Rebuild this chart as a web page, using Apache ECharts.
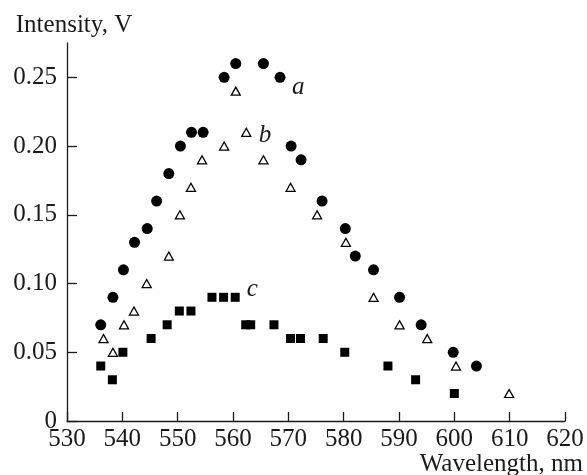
<!DOCTYPE html>
<html>
<head>
<meta charset="utf-8">
<script src="https://cdn.jsdelivr.net/npm/echarts@6/dist/echarts.min.js"></script>
<style>
  html, body { margin: 0; padding: 0; background: #fff; }
  #chart { width: 587px; height: 475px; }
</style>
</head>
<body>
<div id="chart"></div>
<script>
// curve a - filled circles
var aX = [536.1, 538.3, 540.2, 542.2, 544.5, 546.2, 548.4, 550.5, 552.5, 554.6, 558.4, 560.5, 565.5, 568.5, 570.5, 572.3, 576.1, 580.3, 582.1, 585.4, 590.1, 594.0, 599.8, 604.0];
var aY = [0.07, 0.09, 0.11, 0.13, 0.14, 0.16, 0.18, 0.20, 0.21, 0.21, 0.25, 0.26, 0.26, 0.25, 0.20, 0.19, 0.16, 0.14, 0.12, 0.11, 0.09, 0.07, 0.05, 0.04];
// curve b - open triangles
var bX = [536.6, 538.3, 540.3, 542.1, 544.4, 548.4, 550.4, 552.4, 554.4, 558.4, 560.5, 562.4, 565.5, 570.4, 575.2, 580.4, 585.4, 590.1, 595.1, 600.3, 609.9];
var bY = [0.06, 0.05, 0.07, 0.08, 0.10, 0.12, 0.15, 0.17, 0.19, 0.20, 0.24, 0.21, 0.19, 0.17, 0.15, 0.13, 0.09, 0.07, 0.06, 0.04, 0.02];
// curve c - filled squares
var cX = [536.1, 538.2, 540.1, 545.2, 548.1, 550.3, 552.4, 556.2, 558.3, 560.4, 562.3, 563.2, 567.4, 570.4, 572.2, 576.3, 580.2, 588.0, 593.0, 600.0];
var cY = [0.04, 0.03, 0.05, 0.06, 0.07, 0.08, 0.08, 0.09, 0.09, 0.09, 0.07, 0.07, 0.07, 0.06, 0.06, 0.06, 0.05, 0.04, 0.03, 0.02];

var curveNames = ['a', 'b', 'c'];
var curveLabelAt = [[571.8, 0.243], [565.8, 0.208], [563.5, 0.096]];
var yTicks = [0, 0.05, 0.10, 0.15, 0.20, 0.25];

function pairs(xs, ys) {
  return xs.map(function (x, i) { return [x, ys[i]]; });
}

var font = '"Liberation Serif", "Times New Roman", serif';
var ink = '#1a1a1a';
var fs = 25;

function tag(i) {
  return {
    symbol: 'circle',
    symbolSize: 0,
    silent: true,
    label: {
      show: true, position: 'inside', formatter: curveNames[i],
      fontFamily: font, fontStyle: 'italic', fontSize: fs, color: ink
    },
    data: [{ coord: curveLabelAt[i] }]
  };
}

var chart = echarts.init(document.getElementById('chart'));
var option = {
  animation: false,
  backgroundColor: '#fff',
  grid: { left: 67, right: 22, top: 43, bottom: 54, containLabel: false, outerBoundsMode: 'none' },
  xAxis: {
    type: 'value', min: 530, max: 620, interval: 10,
    name: 'Wavelength, nm', nameLocation: 'end', nameGap: 18, nameMoveOverlap: false,
    nameTextStyle: { fontFamily: font, fontSize: fs, color: ink, align: 'right', verticalAlign: 'top', padding: [31, 0, 0, 0] },
    axisLine: { lineStyle: { color: ink, width: 1.3 } },
    axisTick: { inside: true, length: 9, lineStyle: { color: ink, width: 1.3 } },
    axisLabel: { fontFamily: font, fontSize: fs, color: ink, margin: 6, hideOverlap: false },
    splitLine: { show: false }
  },
  yAxis: {
    type: 'value', min: 0, max: 0.275,
    name: 'Intensity, V', nameLocation: 'end', nameGap: 5,
    nameTextStyle: { fontFamily: font, fontSize: fs, color: ink, align: 'center', padding: [0, 0, 0, 14] },
    axisLine: { lineStyle: { color: ink, width: 1.3 } },
    axisTick: { inside: true, length: 10, customValues: yTicks, lineStyle: { color: ink, width: 1.3 } },
    axisLabel: {
      fontFamily: font, fontSize: fs, color: ink, margin: 10, customValues: yTicks,
      formatter: function (v) { return v === 0 ? '0' : v.toFixed(2); }
    },
    splitLine: { show: false }
  },
  series: [
    {
      name: 'a', type: 'scatter', symbol: 'circle', symbolSize: 11,
      itemStyle: { color: '#000', opacity: 1 },
      data: pairs(aX, aY), markPoint: tag(0)
    },
    {
      name: 'b', type: 'scatter', symbol: 'triangle', symbolSize: [9, 8],
      itemStyle: { color: '#fff', borderColor: '#000', borderWidth: 1.3, opacity: 1 },
      data: pairs(bX, bY), markPoint: tag(1)
    },
    {
      name: 'c', type: 'scatter', symbol: 'rect', symbolSize: 9,
      itemStyle: { color: '#000', opacity: 1 },
      data: pairs(cX, cY), markPoint: tag(2)
    }
  ]
};
chart.setOption(option);
</script>
</body>
</html>
